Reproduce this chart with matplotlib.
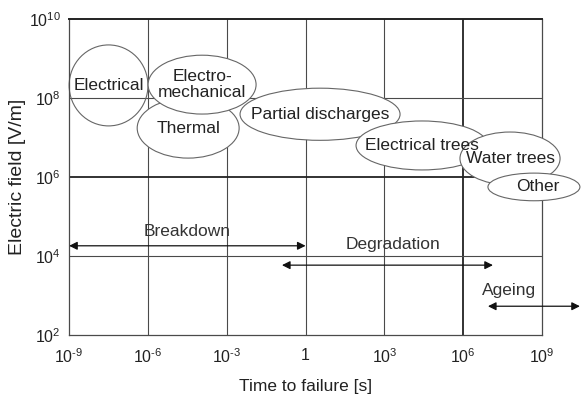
import numpy as np
import matplotlib
matplotlib.use("Agg")
import matplotlib.pyplot as plt
from matplotlib.patches import Ellipse

plt.rcParams["font.family"] = ["Liberation Sans", "DejaVu Sans"]
plt.rcParams["mathtext.fontset"] = "custom"
plt.rcParams["mathtext.rm"] = "Liberation Sans"
plt.rcParams["mathtext.it"] = "Liberation Sans"

# axis ticks (log10 of value) and their labels
x_ticks = [-9, -6, -3, 0, 3, 6, 9]
x_labels = ["$10^{\u20109}$", "$10^{\u20106}$", "$10^{\u20103}$", "1",
            "$10^{3}$", "$10^{6}$", "$10^{9}$"]
y_ticks = [2, 4, 6, 8, 10]
y_labels = ["$10^{2}$", "$10^{4}$", "$10^{6}$", "$10^{8}$", "$10^{10}$"]

# failure mechanisms: centre (log t, log E), width and height in decades
mech_names = ["Electrical", "Thermal", "Electro-\nmechanical", "Partial discharges",
              "Electrical trees", "Water trees", "Other"]
mech_logt = [-7.5, -4.47, -3.94, 0.55, 4.43, 7.78, 8.69]
mech_logE = [8.32, 7.24, 8.34, 7.59, 6.80, 6.47, 5.75]
mech_w = [3.0, 3.88, 4.11, 6.09, 5.02, 3.81, 3.5]
mech_h = [2.05, 1.52, 1.49, 1.32, 1.24, 1.34, 0.7]
mech_text_dx = [0.0, 0.0, 0.0, 0.0, 0.0, 0.0, 0.15]

# time regimes: arrow span (log t) and level (log E)
regimes = ["Breakdown", "Degradation", "Ageing"]
regime_start = [-9.0, -0.9, 6.94]
regime_end = [0.0, 7.13, 10.44]
regime_level = [4.26, 3.77, 2.73]
regime_text_t = [-4.5, 3.33, 7.74]
regime_text_E = [4.62, 4.30, 3.12]

fig = plt.figure(figsize=(5.81, 3.97), dpi=100)
ax = fig.add_axes([0.119, 0.156, 0.814, 0.796])
ax.set_xlim(-9, 9)
ax.set_ylim(2, 10)

grid_c = "#4a4a4a"
for t in x_ticks[1:-1]:
    lw = 1.3 if t == 6 else 0.8
    ax.axvline(t, color="#222222" if t == 6 else grid_c, lw=lw, zorder=0.5)
for e in y_ticks[1:-1]:
    lw = 1.3 if e == 6 else 0.8
    ax.axhline(e, color="#222222" if e == 6 else grid_c, lw=lw, zorder=0.5)

for side in ["left", "bottom", "right"]:
    ax.spines[side].set_color(grid_c)
    ax.spines[side].set_linewidth(0.9)
ax.spines["top"].set_color("#222222")
ax.spines["top"].set_linewidth(1.4)

ax.set_xticks(x_ticks, x_labels, fontsize=11.5)
ax.set_yticks(y_ticks, y_labels, fontsize=11.5)
ax.tick_params(axis="x", length=0, pad=9, colors="#222222")
ax.tick_params(axis="y", length=0, pad=6, colors="#222222")
ax.set_xlabel("Time to failure [s]", fontsize=12.5, color="#222222", labelpad=9)
ax.set_ylabel("Electric field [V/m]", fontsize=14, color="#222222", labelpad=2)

for i, name in enumerate(mech_names):
    fc = "none" if i == 0 else "white"
    ell = Ellipse((mech_logt[i], mech_logE[i]), mech_w[i], mech_h[i],
                  facecolor=fc, edgecolor="#666666", lw=0.8,
                  zorder=2 + i, clip_on=False)
    ax.add_patch(ell)
    ax.text(mech_logt[i] + mech_text_dx[i], mech_logE[i], name, ha="center", va="center",
            fontsize=12.5, color="#222222", linespacing=1.05, zorder=20)

for i, name in enumerate(regimes):
    ax.annotate("", xy=(regime_end[i], regime_level[i]),
                xytext=(regime_start[i], regime_level[i]),
                arrowprops=dict(arrowstyle="<|-|>", color="#111111", lw=0.9,
                                mutation_scale=12, shrinkA=0, shrinkB=0),
                annotation_clip=False, zorder=10)
    ax.text(regime_text_t[i], regime_text_E[i], name, ha="center", va="center",
            fontsize=12.5, color="#333333", zorder=20)

fig.savefig("out.png", dpi=100)
